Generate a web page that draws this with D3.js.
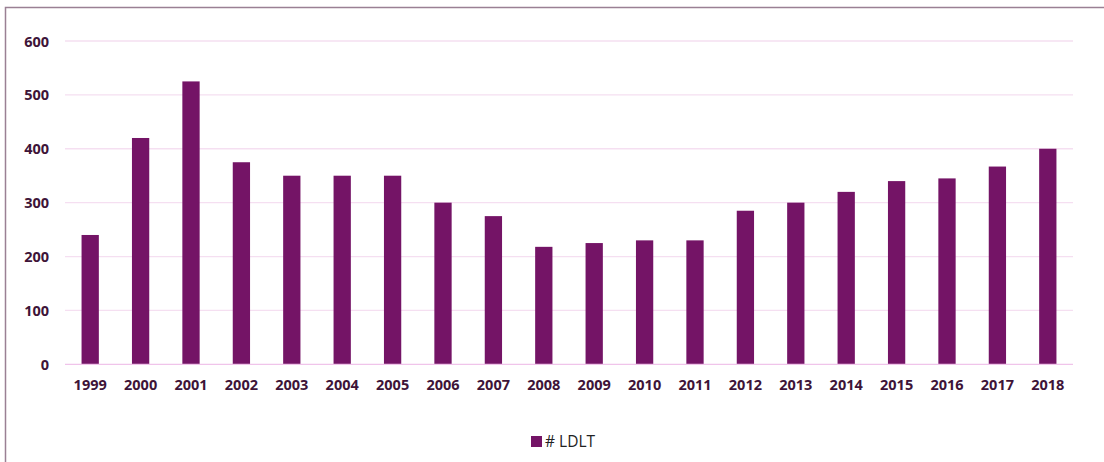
<!DOCTYPE html>
<html>
<head>
<meta charset="utf-8">
<script src="https://cdn.jsdelivr.net/npm/d3@7"></script>
<style>
  html, body { margin: 0; padding: 0; background: #fff; }
  svg { display: block; }
</style>
</head>
<body>
<svg id="chart" width="1104" height="462"></svg>
<script>
// Living-donor liver transplants per year
const years = ["1999","2000","2001","2002","2003","2004","2005","2006","2007","2008",
               "2009","2010","2011","2012","2013","2014","2015","2016","2017","2018"];
const ldlt = [240, 420, 525, 375, 350, 350, 350, 300, 275, 218,
              225, 230, 230, 285, 300, 320, 340, 345, 367, 400];
const yTicks = [0, 100, 200, 300, 400, 500, 600];
const seriesName = "# LDLT";

const W = 1104, H = 462;
const plot = { left: 65, right: 1073, top: 41, bottom: 364.3 };
const barColor = "#741466";
const labelColor = "#3e1438";
const font = "'Open Sans', 'Liberation Sans', sans-serif";

const svg = d3.select("#chart");

// outer frame (runs off the right and bottom edges)
svg.append("rect")
  .attr("x", 5.5).attr("y", 7.5)
  .attr("width", W + 20).attr("height", H + 20)
  .attr("fill", "none")
  .attr("stroke", "#9a8094")
  .attr("stroke-width", 1.5);

const x = d3.scaleBand()
  .domain(years)
  .range([plot.left, plot.right])
  .paddingInner(0.657)
  .paddingOuter(0.3285);

const y = d3.scaleLinear()
  .domain([0, 600])
  .range([plot.bottom, plot.top]);

// horizontal gridlines
svg.append("g")
  .selectAll("line")
  .data(yTicks.filter(d => d > 0))
  .join("line")
  .attr("x1", plot.left).attr("x2", plot.right)
  .attr("y1", d => y(d)).attr("y2", d => y(d))
  .attr("stroke", "#f5dff1")
  .attr("stroke-width", 1.3);

// y-axis labels
const yAxis = d3.axisLeft(y).tickValues(yTicks).tickSize(0).tickPadding(0);
const gy = svg.append("g").attr("transform", "translate(49,0)").call(yAxis);
gy.select(".domain").remove();
gy.selectAll("text")
  .attr("fill", labelColor)
  .style("font-family", font)
  .style("font-weight", 700)
  .style("font-size", "14.5px")
  .attr("dy", "0.35em");

// bars
svg.append("g")
  .selectAll("rect")
  .data(years.map((yr, i) => ({ yr, v: ldlt[i] })))
  .join("rect")
  .attr("x", d => x(d.yr))
  .attr("y", d => y(d.v))
  .attr("width", x.bandwidth())
  .attr("height", d => y(0) - y(d.v))
  .attr("fill", barColor);

// baseline
svg.append("line")
  .attr("x1", plot.left).attr("x2", plot.right)
  .attr("y1", y(0)).attr("y2", y(0))
  .attr("stroke", "#f0c4ea")
  .attr("stroke-width", 1.3);

// x-axis labels
const xAxis = d3.axisBottom(x).tickSize(0).tickPadding(0);
const gx = svg.append("g").attr("transform", `translate(0,${y(0)})`).call(xAxis);
gx.select(".domain").remove();
gx.selectAll("text")
  .attr("fill", labelColor)
  .attr("y", 21)
  .attr("dy", "0.35em")
  .style("font-family", font)
  .style("font-weight", 700)
  .style("font-size", "14.5px");

// legend
const legend = svg.append("g").attr("transform", "translate(531,436)");
legend.append("rect")
  .attr("width", 11).attr("height", 11)
  .attr("fill", barColor);
legend.append("text")
  .attr("x", 14).attr("y", 10.7)
  .attr("fill", "#222")
  .style("font-family", font)
  .style("font-size", "15.5px")
  .text(seriesName);
</script>
</body>
</html>
